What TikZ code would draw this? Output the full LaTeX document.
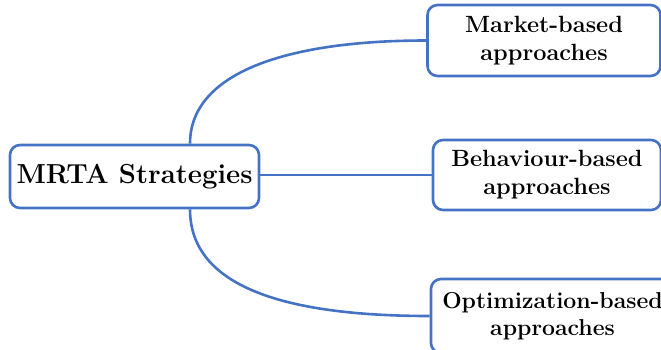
\documentclass[tikz,border=0pt]{standalone}
\begin{document}
\begin{tikzpicture}[x=1pt,y=1pt,
  box/.style={draw=linkblue, line width=2.6pt, rounded corners=10pt, fill=white, align=center, inner sep=0pt},
  link/.style={draw=linkblue, line width=2.6pt},
  centertext/.style={font=\fontsize{27.5}{32}\selectfont\bfseries},
  leaftext/.style={font=\fontsize{23.5}{28}\selectfont\bfseries}]
\definecolor{linkblue}{HTML}{4472C4}
\useasboundingbox (0,0) rectangle (661,-349);
\node[box, centertext, minimum width=249pt, minimum height=63pt] (c) at (134.5,-176.5) {MRTA Strategies};
\node[box, leaftext, minimum width=233pt, minimum height=71pt] (m) at (544,-40.5) {Market-based\\approaches};
\node[box, leaftext, minimum width=228pt, minimum height=70pt] (b) at (547,-175) {Behaviour-based\\approaches};
\node[box, leaftext, font=\fontsize{23}{27.5}\selectfont\bfseries, minimum width=243pt, minimum height=74pt] (o) at (552.5,-316) {Optimization-based\\approaches};
\coordinate (ct) at ([xshift=55.5pt]c.north);
\coordinate (cb) at ([xshift=55.5pt]c.south);
\draw[link] (ct) .. controls ([yshift=70pt]ct) and ([xshift=-142pt]m.west) .. (m.west);
\draw[link] (cb) .. controls ([yshift=-77pt]cb) and ([xshift=-146pt]o.west) .. (o.west);
\draw[link] (c.east |- b.west) -- (b.west);
\end{tikzpicture}
\end{document}
